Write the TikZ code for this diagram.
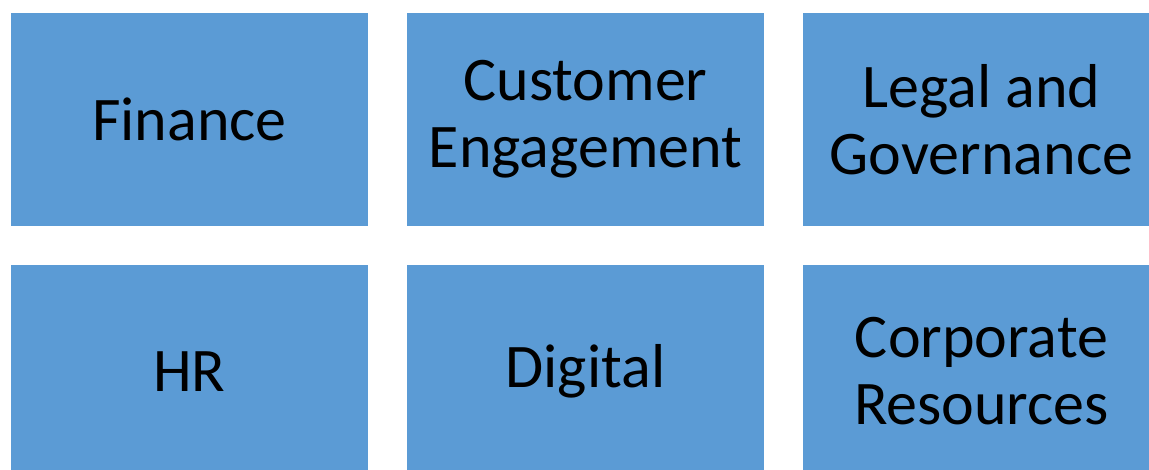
\documentclass[tikz,border=0pt]{standalone}
\usepackage{fontspec}
\setmainfont{Carlito}

\definecolor{deptblue}{HTML}{5B9BD5}
\tikzset{dept/.style={fill=deptblue, minimum width=357pt, minimum height=213pt,
  inner sep=0pt, align=center, font=\fontsize{62}{67}\selectfont}}

\begin{document}
\begin{tikzpicture}[x=1pt, y=-1pt]
\useasboundingbox (0, 0) rectangle (1149, 470);
% top row
\node [dept] (fin) at (189.5, 119.3) {Finance};
\node [dept] (cust) at (585.5, 119.3) {Customer\\Engagement};
\node [dept] (legal) at (981.5, 119.3) {Legal and\\Governance};
% bottom row
\node [dept] (hr) at (189.5, 371.5) {HR};
\node [dept] (digital) at (585.5, 371.5) {Digital};
\node [dept] (corp) at (981.5, 371.5) {Corporate\\Resources};
\end{tikzpicture}
\end{document}
